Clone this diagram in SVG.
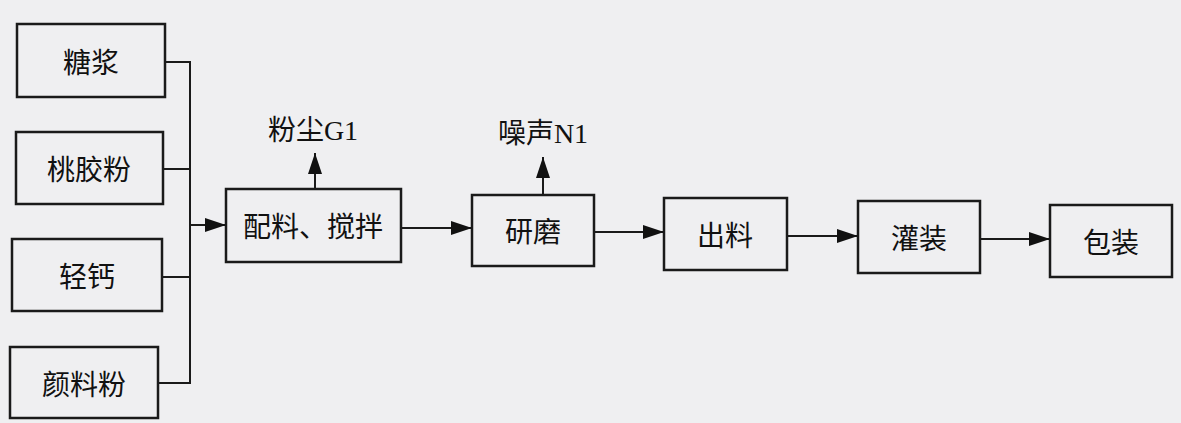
<svg xmlns="http://www.w3.org/2000/svg" width="1181" height="423" viewBox="0 0 1181 423">
<defs>
<marker id="ah" markerUnits="userSpaceOnUse" markerWidth="22" markerHeight="14" refX="21" refY="7" orient="auto">
<path d="M0,0 L21,7 L0,14 Z" fill="#111"/>
</marker>
<style>
.box{fill:none;stroke:#1a1a1a;stroke-width:2.5}
.lbl{font-family:"Noto Sans CJK SC","Noto Sans",sans-serif;font-size:28px;fill:#111;text-anchor:middle;dominant-baseline:central}
.em{font-family:"Liberation Serif","Noto Sans CJK SC",serif;font-size:28px;fill:#111;text-anchor:middle}
.ln{fill:none;stroke:#1a1a1a;stroke-width:2}
.ar{fill:none;stroke:#1a1a1a;stroke-width:2;marker-end:url(#ah)}
</style>
</defs>
<rect width="1181" height="423" fill="#efeff1"/>
<g id="n-tangjiang"><rect class="box" x="17" y="24" width="148" height="73"/><text class="lbl" x="91" y="61">糖浆</text></g>
<g id="n-taojiaofen"><rect class="box" x="16" y="132" width="147" height="72"/><text class="lbl" x="89" y="168">桃胶粉</text></g>
<g id="n-qinggai"><rect class="box" x="12" y="239" width="150" height="72"/><text class="lbl" x="87" y="275">轻钙</text></g>
<g id="n-yanliaofen"><rect class="box" x="10" y="347" width="148" height="71"/><text class="lbl" x="84" y="383">颜料粉</text></g>
<g id="n-peiliao"><rect class="box" x="226" y="189" width="175" height="73"/><text class="lbl" x="313" y="225">配料、搅拌</text></g>
<g id="n-yanmo"><rect class="box" x="472" y="195" width="122" height="71"/><text class="lbl" x="533" y="230">研磨</text></g>
<g id="n-chuliao"><rect class="box" x="664" y="198" width="123" height="72"/><text class="lbl" x="725" y="234">出料</text></g>
<g id="n-guanzhuang"><rect class="box" x="858" y="201" width="122" height="72"/><text class="lbl" x="919" y="237">灌装</text></g>
<g id="n-baozhuang"><rect class="box" x="1050" y="205" width="122" height="72"/><text class="lbl" x="1111" y="241">包装</text></g>
<g id="n-fenchen"><text class="em" x="313" y="140"><tspan font-family="Noto Sans CJK SC, sans-serif">粉尘</tspan>G1</text></g>
<g id="n-zaosheng"><text class="em" x="543" y="143"><tspan font-family="Noto Sans CJK SC, sans-serif">噪声</tspan>N1</text></g>
<g id="connectors">
<path class="ln" d="M165,62 H190 M163,169 H190 M162,277 H190 M158,383 H190 M190,61 V384"/>
<path class="ar" d="M190,225 H226"/>
<path class="ar" d="M315,189 V153"/>
<path class="ar" d="M401,228 H472"/>
<path class="ar" d="M543,195 V157"/>
<path class="ar" d="M594,232 H664"/>
<path class="ar" d="M787,236 H858"/>
<path class="ar" d="M980,239 H1050"/>
</g>
</svg>
